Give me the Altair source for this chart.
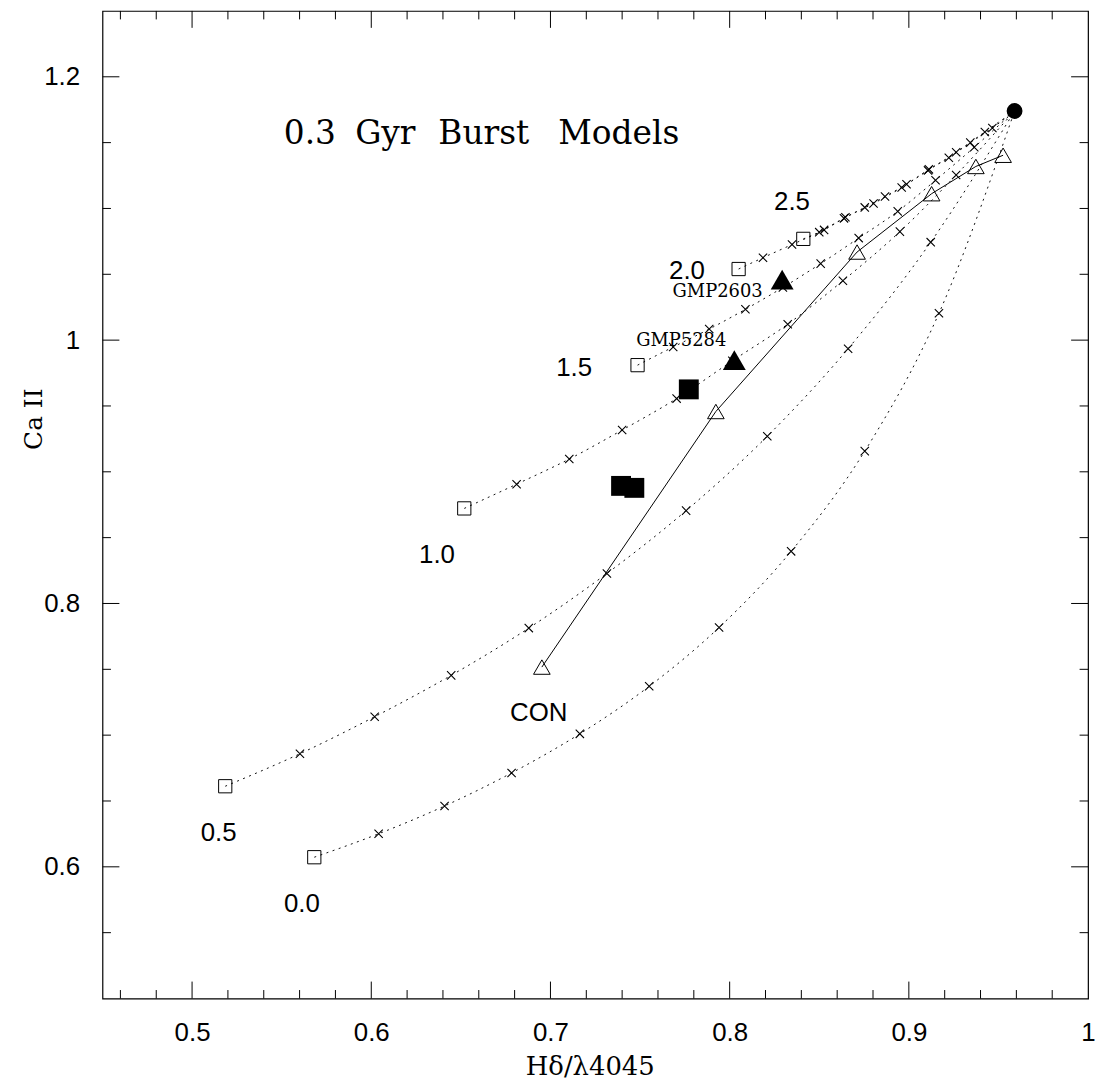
import altair as alt
import pandas as pd

# ---------------- data ----------------
burst_x = [0.959]
burst_y = [1.174]

curve_names = ["0.0", "0.5", "1.0", "1.5", "2.0", "2.5"]
c00_x = [0.5682, 0.6041, 0.6409, 0.6783, 0.7164, 0.7551, 0.7941, 0.8343, 0.8754, 0.9168]
c00_y = [0.6073, 0.6251, 0.6462, 0.6713, 0.7010, 0.7371, 0.7818, 0.8396, 0.9157, 1.0204]
c05_x = [0.5185, 0.5602, 0.6019, 0.6446, 0.6879, 0.7315, 0.7757, 0.8210, 0.8661, 0.9122]
c05_y = [0.6612, 0.6859, 0.7140, 0.7454, 0.7813, 0.8228, 0.8705, 0.9270, 0.9935, 1.0744]
c10_x = [0.6519, 0.6811, 0.7105, 0.7400, 0.7704, 0.8015, 0.8324, 0.8632, 0.8950, 0.9264]
c10_y = [0.8722, 0.8906, 0.9097, 0.9317, 0.9556, 0.9843, 1.0121, 1.0451, 1.0824, 1.1254]
c15_x = [0.7486, 0.7685, 0.7886, 0.8088, 0.8297, 0.8508, 0.8720, 0.8938, 0.9149, 0.9365]
c15_y = [0.9810, 0.9948, 1.0084, 1.0234, 1.0400, 1.0581, 1.0775, 1.0978, 1.1214, 1.1465]
c20_x = [0.8050, 0.8186, 0.8348, 0.8500, 0.8646, 0.8803, 0.8960, 0.9107, 0.9264, 0.9424]
c20_y = [1.0540, 1.0626, 1.0726, 1.0820, 1.0933, 1.1038, 1.1159, 1.1289, 1.1427, 1.1581]
c25_x = [0.8411, 0.8527, 0.8638, 0.8754, 0.8867, 0.8987, 0.9112, 0.9223, 0.9343, 0.9466]
c25_y = [1.0769, 1.0837, 1.0925, 1.1008, 1.1091, 1.1184, 1.1297, 1.1385, 1.1500, 1.1611]

con_x = [0.6952, 0.7923, 0.8711, 0.9127, 0.9374, 0.9526]
con_y = [0.7517, 0.9458, 1.0669, 1.1112, 1.1319, 1.1404]

gmp_tri_x = [0.8293, 0.8026]
gmp_tri_y = [1.0460, 0.9848]
gal_sq_x = [0.7772, 0.7394, 0.7468]
gal_sq_y = [0.9626, 0.8893, 0.8878]

num_labels = ["2.5", "2.0", "1.5", "1.0", "0.5", "0.0", "CON"]
num_lx = [0.8348, 0.7762, 0.7132, 0.6367, 0.5148, 0.5613, 0.6935]
num_ly = [1.1050, 1.0521, 0.9790, 0.8367, 0.6258, 0.5717, 0.7170]

gmp_labels = ["GMP2603", "GMP5284"]
gmp_lx = [0.7933, 0.7730]
gmp_ly = [1.0364, 0.9991]

# title "0.3 Gyr Burst Models", word by word (wide spacing in the original)
title_words = ["0.3", "Gyr", "Burst", "Models"]
title_wx = [0.5512, 0.5910, 0.6374, 0.7043]
title_wy = [1.1493, 1.1493, 1.1493, 1.1493]

x_major = [0.5, 0.6, 0.7, 0.8, 0.9]
x_minor = [0.46, 0.48, 0.52, 0.54, 0.56, 0.58, 0.62, 0.64, 0.66, 0.68,
           0.72, 0.74, 0.76, 0.78, 0.82, 0.84, 0.86, 0.88, 0.92, 0.94, 0.96, 0.98]
x_labels = [0.5, 0.6, 0.7, 0.8, 0.9, 1.0]
y_major = [0.6, 0.8, 1.0, 1.2]
y_minor = [0.55, 0.65, 0.7, 0.75, 0.85, 0.9, 0.95, 1.05, 1.1, 1.15]
y_labels = [0.6, 0.8, 1.0, 1.2]

# ---------------- tables ----------------
rows = []
for name, cx, cy in zip(curve_names, [c00_x, c05_x, c10_x, c15_x, c20_x, c25_x],
                        [c00_y, c05_y, c10_y, c15_y, c20_y, c25_y]):
    for i, (a, b) in enumerate(zip(cx, cy)):
        rows.append({"curve": name, "order": i, "x": a, "y": b,
                     "kind": "start" if i == 0 else "mark"})
    rows.append({"curve": name, "order": len(cx), "x": burst_x[0], "y": burst_y[0], "kind": "end"})
curves = pd.DataFrame(rows)
con = pd.DataFrame({"x": con_x, "y": con_y, "order": list(range(len(con_x)))})
tri = pd.DataFrame({"x": gmp_tri_x, "y": gmp_tri_y})
gsq = pd.DataFrame({"x": gal_sq_x, "y": gal_sq_y})
burst = pd.DataFrame({"x": burst_x, "y": burst_y})
nlab = pd.DataFrame({"t": num_labels, "x": num_lx, "y": num_ly})
glab = pd.DataFrame({"t": gmp_labels, "x": gmp_lx, "y": gmp_ly})
tlab = pd.DataFrame({"t": title_words, "x": title_wx, "y": title_wy})

W, H = 991, 993
MAJ, MIN = 17, 8.5
SERIF = "DejaVu Serif"

xs = alt.Scale(domain=[0.45, 1.0], nice=False, zero=False)
ys = alt.Scale(domain=[0.5, 1.25], nice=False, zero=False)
xaxis = alt.Axis(values=x_labels, format="~g", labelFont="Liberation Sans", labelFontSize=26,
                 labelColor="black", ticks=False, tickSize=0, domain=False, grid=False,
                 labelPadding=21, labelFlush=False, labelOverlap=False,
                 title="Hδ/λ4045", titleFont=SERIF, titleFontSize=26,
                 titleFontWeight="normal", titleColor="black", titleBaseline="alphabetic",
                 titleAlign="center", titleX=490, titleY=76)
yaxis = alt.Axis(values=y_labels, format="~g", labelFont="Liberation Sans", labelFontSize=26,
                 labelColor="black", ticks=False, tickSize=0, domain=False, grid=False,
                 labelPadding=23, labelFlush=False, labelOverlap=False,
                 title="Ca II", titleFont=SERIF, titleFontSize=25,
                 titleFontWeight="normal", titleColor="black", titleAngle=270,
                 titleBaseline="alphabetic", titleAlign="center", titleX=-61, titleY=410)


def X(f="x"):
    return alt.X(f"{f}:Q", scale=xs, axis=xaxis)


def Y(f="y"):
    return alt.Y(f"{f}:Q", scale=ys, axis=yaxis)


layers = []

# inward ticks on all four sides
for vals, ln in [(x_major, MAJ), (x_minor, MIN)]:
    d = pd.DataFrame({"x": vals})
    layers.append(alt.Chart(d).mark_rule(color="black", strokeWidth=1).encode(
        x=X(), y=alt.value(H), y2=alt.value(H - ln)))
    layers.append(alt.Chart(d).mark_rule(color="black", strokeWidth=1).encode(
        x=X(), y=alt.value(0), y2=alt.value(ln)))
for vals, ln in [(y_major, MAJ), (y_minor, MIN)]:
    d = pd.DataFrame({"y": vals})
    layers.append(alt.Chart(d).mark_rule(color="black", strokeWidth=1).encode(
        y=Y(), x=alt.value(0), x2=alt.value(ln)))
    layers.append(alt.Chart(d).mark_rule(color="black", strokeWidth=1).encode(
        y=Y(), x=alt.value(W), x2=alt.value(W - ln)))

# dotted model curves
layers.append(alt.Chart(curves).mark_line(color="#111", strokeWidth=1, strokeDash=[2, 4.5],
                                          interpolate="monotone").encode(
    x=X(), y=Y(), detail="curve:N", order="order:Q"))
# solid CON line
layers.append(alt.Chart(con).mark_line(color="black", strokeWidth=1).encode(
    x=X(), y=Y(), order="order:Q"))
# x marks
layers.append(alt.Chart(curves).transform_filter(alt.datum.kind == "mark").mark_point(
    shape="M-1,-1L1,1M-1,1L1,-1", size=70, filled=False, stroke="black", strokeWidth=1.1,
    opacity=1).encode(x=X(), y=Y()))
# open squares at curve starts
layers.append(alt.Chart(curves).transform_filter(alt.datum.kind == "start").mark_point(
    shape="square", size=177, filled=False, stroke="black", strokeWidth=1, opacity=1).encode(
    x=X(), y=Y()))
# open triangles on CON
layers.append(alt.Chart(con).mark_point(shape="triangle-up", size=280, filled=False,
                                        stroke="black", strokeWidth=1, opacity=1).encode(
    x=X(), y=Y()))
# burst point
layers.append(alt.Chart(burst).mark_point(shape="circle", size=254, filled=True,
                                          color="black", opacity=1).encode(x=X(), y=Y()))
# galaxies
layers.append(alt.Chart(tri).mark_point(shape="triangle-up", size=529, filled=True,
                                        color="black", opacity=1).encode(x=X(), y=Y()))
layers.append(alt.Chart(gsq).mark_point(shape="square", size=400, filled=True,
                                        color="black", opacity=1).encode(x=X(), y=Y()))
# labels
layers.append(alt.Chart(nlab).mark_text(font="Liberation Sans", fontSize=26, color="black",
                                        align="center", baseline="middle").encode(
    x=X(), y=Y(), text="t:N"))
layers.append(alt.Chart(glab).mark_text(font=SERIF, fontSize=18, color="black",
                                        align="center", baseline="middle").encode(
    x=X(), y=Y(), text="t:N"))
layers.append(alt.Chart(tlab).mark_text(font=SERIF, fontSize=33, color="black",
                                        align="left", baseline="alphabetic").encode(
    x=X(), y=Y(), text="t:N"))

chart = alt.layer(*layers).properties(
    width=W, height=H,
    autosize=alt.AutoSizeParams(type="none"),
    padding={"left": 95, "top": 0, "right": 8, "bottom": 81},
    background="white",
).configure_view(stroke="black", strokeWidth=1.2)

chart.save("out.html", embed_options={"renderer": "svg", "actions": False})
